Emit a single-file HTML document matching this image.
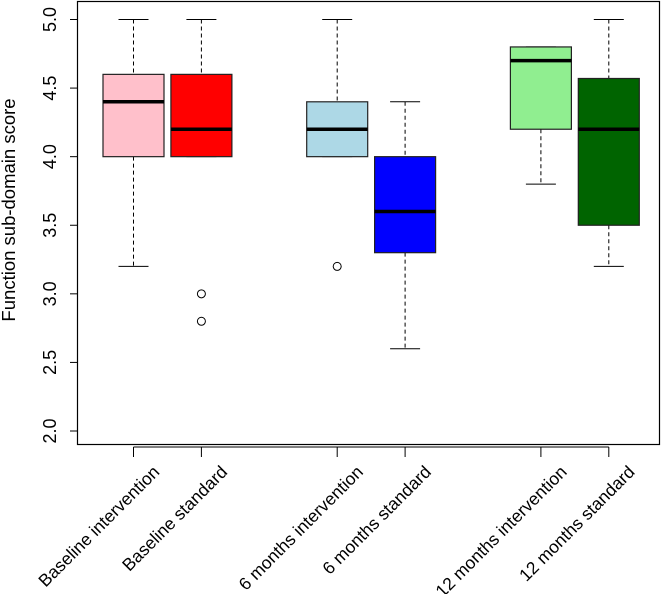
<!DOCTYPE html>
<html><head><meta charset="utf-8"><style>
body{margin:0;background:#fff}
svg{display:block;font-family:"Liberation Sans",Arial,sans-serif}
</style></head><body>
<svg id="chart" width="667" height="594"></svg>
<script>
const categories=["Baseline intervention","Baseline standard","6 months intervention","6 months standard","12 months intervention","12 months standard"];
const positions=[1,2,4,5,7,8];
const q1=[4.0,4.0,4.0,3.3,4.2,3.5];
const medians=[4.4,4.2,4.2,3.6,4.7,4.2];
const q3=[4.6,4.6,4.4,4.0,4.8,4.57];
const whiskLo=[3.2,4.0,4.0,2.6,3.8,3.2];
const whiskHi=[5.0,5.0,5.0,4.4,4.8,5.0];
const outliers=[[],[3.0,2.8],[3.2],[],[],[]];
const fills=["#ffc0cb","#ff0000","#add8e6","#0000ff","#90ee90","#006400"];
const yTicks=[2.0,2.5,3.0,3.5,4.0,4.5,5.0];
const yLabels=["2.0","2.5","3.0","3.5","4.0","4.5","5.0"];

const NS="http://www.w3.org/2000/svg";
const svg=document.getElementById('chart');
const y=v=>19.5+(5.0-v)*(431-19.5)/3.0;
const x=p=>133.5+(p-1)*67.9;
const bw=61, cap=15;
function el(tag,attrs,parent){const e=document.createElementNS(NS,tag);for(const k in attrs)e.setAttribute(k,attrs[k]);(parent||svg).appendChild(e);return e;}

const frame=el('rect',{x:77.5,y:1.5,width:582,height:443,fill:'none',stroke:'#000','stroke-width':1.2});



const yAxis=el('g',{});


yTicks.forEach((t,i)=>{
  el('line',{x1:70,x2:77.5,y1:y(t),y2:y(t),stroke:'#000'},yAxis);
  const tx=el('text',{x:0,y:0,'font-size':18,'text-anchor':'middle',fill:'#000',transform:`translate(56,${y(t)}) rotate(-90)`},yAxis);
  tx.textContent=yLabels[i];
  
  
});
const yt=el('text',{x:0,y:0,'font-size':18.5,'text-anchor':'middle',fill:'#000',transform:`translate(15,210) rotate(-90)`});
yt.textContent="Function sub-domain score";



const xAxis=el('g',{});


el('line',{x1:x(positions[0]),x2:x(positions[positions.length-1]),y1:447,y2:447,stroke:'#000'},xAxis);
categories.forEach((c,i)=>{
  const px=x(positions[i]);
  el('line',{x1:px,x2:px,y1:447,y2:457,stroke:'#000'},xAxis);
  const tx=el('text',{x:0,y:0,'font-size':17.5,'text-anchor':'end',fill:'#000',transform:`translate(${px+27},${473}) rotate(-45)`},xAxis);
  tx.textContent=c;
  
  
});

categories.forEach((c,i)=>{
  const g=el('g',{});
  
  
  const cx=x(positions[i]);
  if(whiskHi[i]>q3[i]){
    el('line',{x1:cx,x2:cx,y1:y(whiskHi[i]),y2:y(q3[i]),stroke:'#000','stroke-dasharray':'4,3'},g);
  }
  el('line',{x1:cx-cap,x2:cx+cap,y1:y(whiskHi[i]),y2:y(whiskHi[i]),stroke:'#000'},g);
  if(whiskLo[i]<q1[i]){
    el('line',{x1:cx,x2:cx,y1:y(q1[i]),y2:y(whiskLo[i]),stroke:'#000','stroke-dasharray':'4,3'},g);
  }
  el('line',{x1:cx-cap,x2:cx+cap,y1:y(whiskLo[i]),y2:y(whiskLo[i]),stroke:'#000'},g);
  el('rect',{x:cx-bw/2,y:y(q3[i]),width:bw,height:y(q1[i])-y(q3[i]),fill:fills[i],stroke:'#222','stroke-width':1.2},g);
  el('line',{x1:cx-bw/2,x2:cx+bw/2,y1:y(medians[i]),y2:y(medians[i]),stroke:'#000','stroke-width':3.5},g);
  outliers[i].forEach(o=>{
    const ci=el('circle',{cx:cx,cy:y(o),r:4,fill:'none',stroke:'#000'},g);
    
    
  });
});
</script>
</body></html>
